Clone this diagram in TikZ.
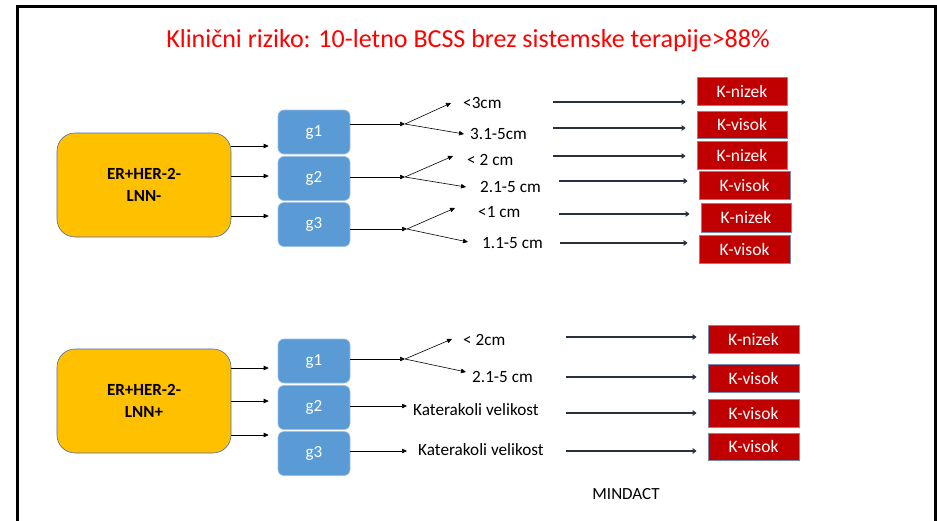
\documentclass[tikz,border=0pt]{standalone}
\usepackage{fontspec}
\setmainfont{Carlito}
\usetikzlibrary{arrows.meta}
\definecolor{ttl}{HTML}{FF0000}
\definecolor{yel}{HTML}{FFC000}
\definecolor{yelb}{HTML}{4A6FA5}
\definecolor{blu}{HTML}{5B9BD5}
\definecolor{blub}{HTML}{9DBFE3}
\definecolor{redf}{HTML}{C00000}
\definecolor{redb}{HTML}{6F8DB5}
\definecolor{thk}{HTML}{28323F}
\tikzset{
  ybox/.style={draw=yelb, line width=0.6pt, fill=yel, rounded corners=18pt, minimum width=174pt, minimum height=104pt, align=center, font=\fontsize{17}{22}\selectfont\bfseries},
  gbox/.style={draw=blub, line width=0.6pt, fill=blu, rounded corners=6pt, minimum width=72pt, minimum height=44pt, text=white, font=\fontsize{17}{20}\selectfont},
  rbox/.style={draw=redb, line width=0.8pt, fill=redf, minimum width=90pt, minimum height=28pt, text=white, font=\fontsize{17.5}{20}\selectfont, inner sep=0pt},
  lbl/.style={anchor=west, inner sep=0pt, font=\fontsize{17.2}{20}\selectfont},
  arr/.style={line width=0.6pt, -{Triangle[length=5pt,width=4.5pt]}},
  tarr/.style={draw=thk, line width=2.6pt, -{Triangle[length=4pt,width=5.5pt]}, shorten >=11pt}
}
\begin{document}
\begin{tikzpicture}[x=1pt,y=-1pt]
\useasboundingbox (0,0) rectangle (937,520);
\fill[white] (0,0) rectangle (937,520);
\draw[line width=3pt, black] (17,6) rectangle (935,540);

\node[font=\fontsize{26}{30}\selectfont, text=ttl] (T) at (468,41) {Klinični riziko: 10-letno BCSS brez sistemske terapije>88\%};

% ---------- top group ----------
\node[ybox] (Y1) at (144,185) {ER+HER-2-\\LNN-};
\node[gbox] (G1) at (314,132) {g1};
\node[gbox] (G2) at (314,178.5) {g2};
\node[gbox] (G3) at (314,224.5) {g3};

\draw[arr] (Y1.east |- 0,146) -- ([xshift=-9pt]G1.west |- 0,146);
\draw[arr] (Y1.east |- 0,176) -- ([xshift=-9pt]G2.west |- 0,176);
\draw[arr] (Y1.east |- 0,216) -- ([xshift=-9pt]G3.west |- 0,216);

\coordinate (S1) at (405,124);
\coordinate (S2) at (405,177);
\coordinate (S3) at (407,229);
\draw[arr] (G1.east |- S1) -- (S1);
\draw[arr] (G2.east |- S2) -- (S2);
\draw[arr] (G3.east |- S3) -- (S3);

\node[lbl] (L1) at (463,103) {<3cm};
\node[lbl] (L2) at (470,134) {3.1-5cm};
\node[lbl] (L3) at (467,160) {< 2 cm};
\node[lbl] (L4) at (480,187) {2.1-5 cm};
\node[lbl] (L5) at (478,212) {<1 cm};
\node[lbl] (L6) at (482,243) {1.1-5 cm};

\coordinate (E1) at (451,103);
\coordinate (E2) at (464,134);
\coordinate (E3) at (453,156);
\coordinate (E4) at (466,187);
\coordinate (E5) at (455,208);
\coordinate (E6) at (468,242);
\draw[arr] (S1) -- (E1);
\draw[arr] (S1) -- (E2);
\draw[arr] (S2) -- (E3);
\draw[arr] (S2) -- (E4);
\draw[arr] (S3) -- (E5);
\draw[arr] (S3) -- (E6);

\node[rbox] (R1) at (742,91) {K-nizek};
\node[rbox, minimum height=27pt] (R2) at (742,124.5) {K-visok};
\node[rbox] (R3) at (742,155) {K-nizek};
\node[rbox, minimum width=91pt] (R4) at (744.5,185) {K-visok};
\node[rbox, minimum height=29pt] (R5) at (746,217.5) {K-nizek};
\node[rbox, minimum width=91pt] (R6) at (744.5,249) {K-visok};

\coordinate (A1) at (553,102);
\coordinate (A2) at (553,128);
\coordinate (A3) at (553,156);
\coordinate (A4) at (559,181);
\coordinate (A5) at (559,214);
\coordinate (A6) at (560,243);
\draw[tarr] (A1) -- (A1 -| R1.west);
\draw[tarr] (A2) -- (A2 -| R2.west);
\draw[tarr] (A3) -- (A3 -| R3.west);
\draw[tarr] (A4) -- (A4 -| R4.west);
\draw[tarr] (A5) -- (A5 -| R5.west);
\draw[tarr] (A6) -- (A6 -| R6.west);

% ---------- bottom group ----------
\node[ybox] (Y2) at (144,401) {ER+HER-2-\\LNN+};
\node[gbox] (H1) at (314,361) {g1};
\node[gbox] (H2) at (314,407.5) {g2};
\node[gbox] (H3) at (314,453.5) {g3};

\draw[arr] (Y2.east |- 0,368) -- ([xshift=-9pt]H1.west |- 0,368);
\draw[arr] (Y2.east |- 0,401) -- ([xshift=-9pt]H2.west |- 0,401);
\draw[arr] (Y2.east |- 0,435) -- ([xshift=-9pt]H3.west |- 0,435);

\coordinate (S4) at (405,359);
\coordinate (S5) at (407,406);
\coordinate (S6) at (407,451);
\draw[arr] (H1.east |- S4) -- (S4);
\draw[arr] (H2.east |- S5) -- (S5);
\draw[arr] (H3.east |- S6) -- (S6);

\node[lbl] (M1) at (463,340) {< 2cm};
\node[lbl] (M2) at (472,377) {2.1-5 cm};
\node[lbl] (M3) at (413,410) {Katerakoli velikost};
\node[lbl] (M4) at (418,450) {Katerakoli velikost};

\coordinate (F1) at (452,339);
\coordinate (F2) at (466,372);
\draw[arr] (S4) -- (F1);
\draw[arr] (S4) -- (F2);

\node[rbox, minimum width=91pt] (Q1) at (753.5,339) {K-nizek};
\node[rbox, minimum width=91pt] (Q2) at (753.5,378) {K-visok};
\node[rbox, minimum width=91pt] (Q3) at (753.5,413) {K-visok};
\node[rbox, minimum width=91pt, minimum height=27pt] (Q4) at (753.5,446.5) {K-visok};

\coordinate (B1) at (566,337);
\coordinate (B2) at (566,377);
\coordinate (B3) at (566,413);
\coordinate (B4) at (566,451);
\draw[tarr] (B1) -- (B1 -| Q1.west);
\draw[tarr] (B2) -- (B2 -| Q2.west);
\draw[tarr] (B3) -- (B3 -| Q3.west);
\draw[tarr] (B4) -- (B4 -| Q4.west);

\node[font=\fontsize{17}{20}\selectfont] (MD) at (626,494) {MINDACT};
\end{tikzpicture}
\end{document}
